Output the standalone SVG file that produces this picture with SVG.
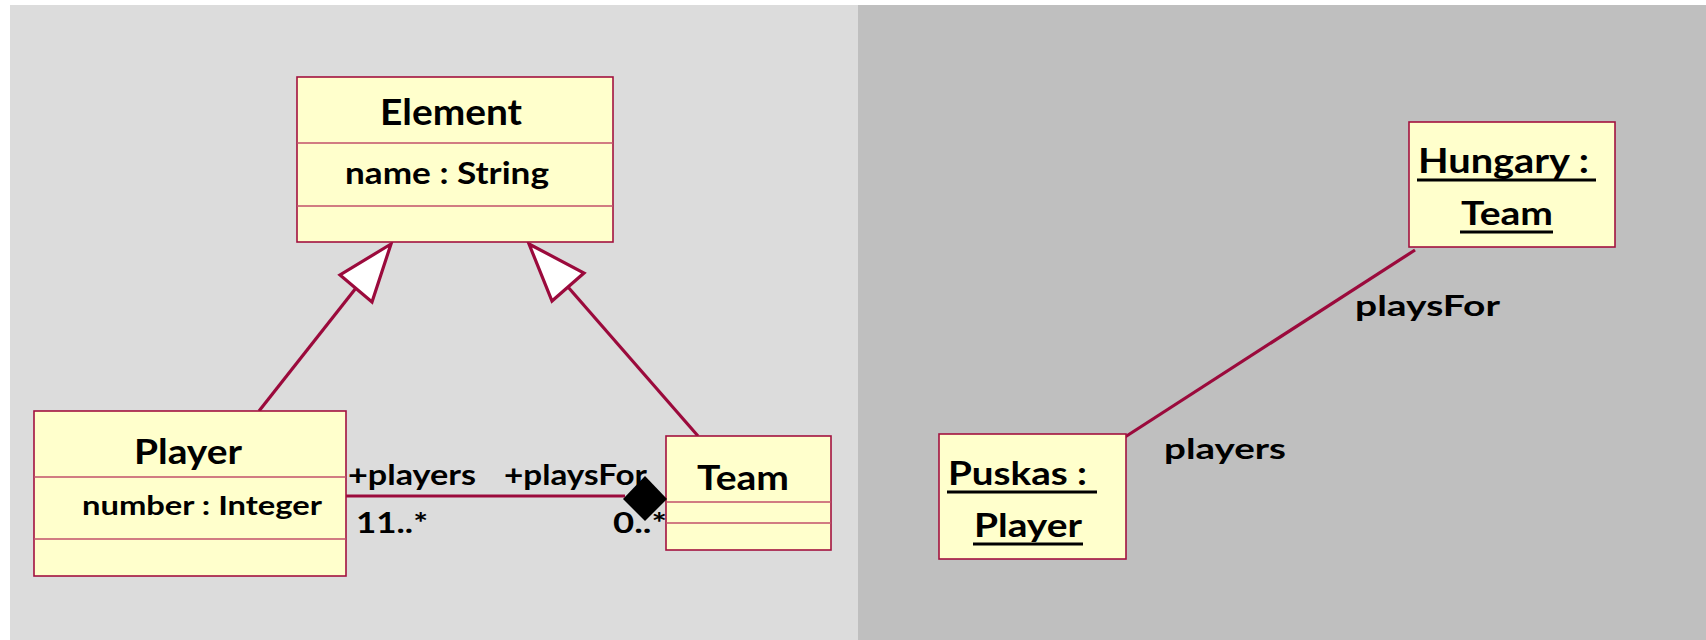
<svg xmlns="http://www.w3.org/2000/svg" width="1706" height="640" viewBox="0 0 1706 640">
<style>
.box{fill:#FFFFCC;stroke:#A3123F;stroke-width:1.6}
.div{stroke:#C2506A;stroke-width:1.5}
.con{stroke:#9B0A3C;stroke-width:3.2;fill:none}
.tri{fill:#FFFFFF;stroke:#9B0A3C;stroke-width:3.2;stroke-linejoin:miter}
.t{font-family:Lato,"Liberation Sans",Arial,sans-serif;font-weight:bold;fill:#000}
.ul{stroke:#000;stroke-width:3}
</style>
<rect x="10" y="5" width="848" height="635" fill="#DCDCDC"/>
<rect x="858" y="5" width="848" height="635" fill="#BFBFBF"/>

<g id="connectors">
  <line class="con" x1="259" y1="411" x2="356" y2="288"/>
  <polygon class="tri" points="391,244 340,275 372,302"/>
  <line class="con" x1="698" y1="436" x2="568" y2="287"/>
  <polygon class="tri" points="529,244 584,273 552,301"/>
  <line class="con" x1="346" y1="496" x2="625" y2="496" stroke-width="3.6"/>
  <line class="con" x1="1415" y1="250" x2="1125" y2="437"/>
</g>

<g id="Element">
  <rect class="box" x="297" y="77" width="316" height="165"/>
  <line class="div" x1="297" y1="143" x2="613" y2="143"/>
  <line class="div" x1="297" y1="206" x2="613" y2="206"/>
  <text class="t" x="380" y="125" font-size="37" textLength="142" lengthAdjust="spacingAndGlyphs">Element</text>
  <text class="t" x="345" y="184" font-size="30" textLength="204" lengthAdjust="spacingAndGlyphs">name : String</text>
</g>

<g id="Player">
  <rect class="box" x="34" y="411" width="312" height="165"/>
  <line class="div" x1="34" y1="477" x2="346" y2="477"/>
  <line class="div" x1="34" y1="539" x2="346" y2="539"/>
  <text class="t" x="134" y="464" font-size="34" textLength="108" lengthAdjust="spacingAndGlyphs">Player</text>
  <text class="t" x="82" y="515" font-size="27" textLength="240" lengthAdjust="spacingAndGlyphs">number : Integer</text>
</g>

<g id="Team">
  <rect class="box" x="666" y="436" width="165" height="114"/>
  <line class="div" x1="666" y1="502" x2="831" y2="502"/>
  <line class="div" x1="666" y1="523" x2="831" y2="523"/>
  <text class="t" x="697" y="490" font-size="35" textLength="92" lengthAdjust="spacingAndGlyphs">Team</text>
</g>

<g id="association-labels">
  <text class="t" x="348" y="485" font-size="28" textLength="128" lengthAdjust="spacingAndGlyphs">+players</text>
  <text class="t" x="504" y="485" font-size="28" textLength="143" lengthAdjust="spacingAndGlyphs">+playsFor</text>
  <text class="t" x="356" y="533" font-size="29" textLength="72" lengthAdjust="spacingAndGlyphs">11..*</text>
  <text class="t" x="613" y="533" font-size="29" textLength="54" lengthAdjust="spacingAndGlyphs">0..*</text>
  <polygon points="623,499 645,476 667,499 645,521" fill="#000"/>
</g>

<g id="Hungary">
  <rect class="box" x="1409" y="122" width="206" height="125"/>
  <text class="t" x="1418" y="173" font-size="35" textLength="171" lengthAdjust="spacingAndGlyphs">Hungary :</text>
  <line class="ul" x1="1417" y1="180" x2="1596" y2="180"/>
  <text class="t" x="1461" y="225" font-size="33" textLength="92" lengthAdjust="spacingAndGlyphs">Team</text>
  <line class="ul" x1="1460" y1="232" x2="1553" y2="232"/>
</g>

<g id="Puskas">
  <rect class="box" x="939" y="434" width="187" height="125"/>
  <text class="t" x="948" y="485" font-size="33" textLength="139" lengthAdjust="spacingAndGlyphs">Puskas :</text>
  <line class="ul" x1="947" y1="492" x2="1097" y2="492"/>
  <text class="t" x="974" y="537" font-size="33" textLength="108" lengthAdjust="spacingAndGlyphs">Player</text>
  <line class="ul" x1="973" y1="544" x2="1083" y2="544"/>
</g>

<g id="link-labels">
  <text class="t" x="1355" y="316" font-size="29" textLength="145" lengthAdjust="spacingAndGlyphs">playsFor</text>
  <text class="t" x="1164" y="459" font-size="29" textLength="122" lengthAdjust="spacingAndGlyphs">players</text>
</g>
</svg>
